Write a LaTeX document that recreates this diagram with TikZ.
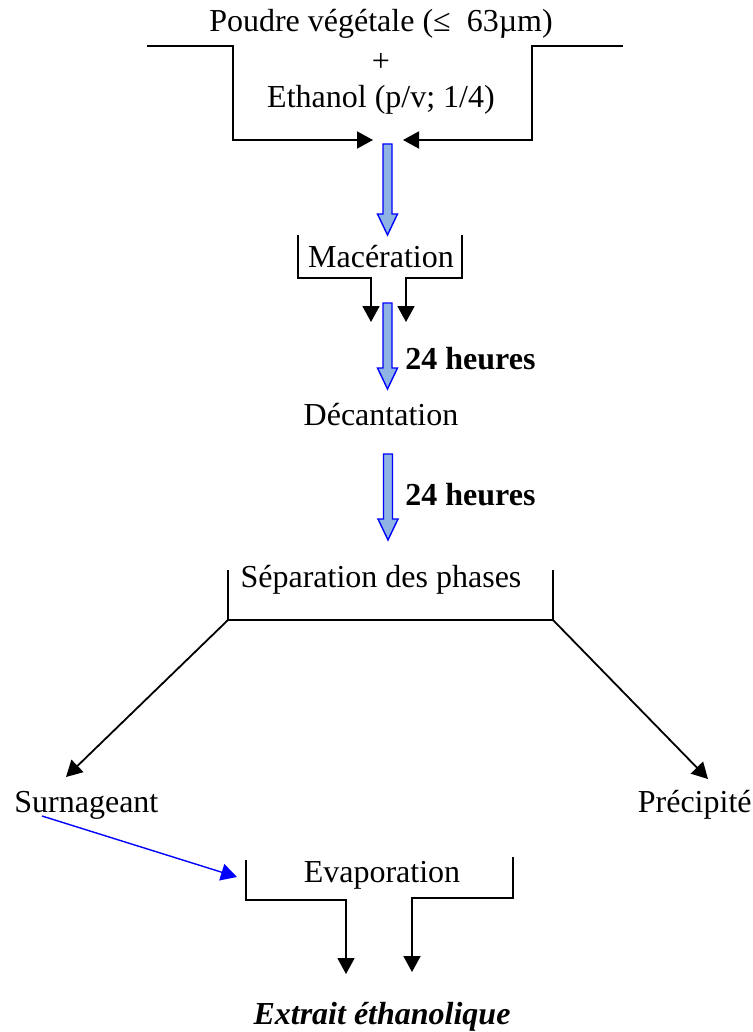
\documentclass[tikz,border=0pt]{standalone}
\usepackage{fontspec}
\setmainfont{Liberation Serif}
\usetikzlibrary{arrows.meta}
\definecolor{blockfill}{RGB}{142,180,227}
\tikzset{
  txt/.style={inner sep=0pt, font=\fontsize{16}{19}\selectfont},
  btxt/.style={inner sep=0pt, font=\fontsize{16}{19}\selectfont\bfseries},
  brk/.style={line width=0.9pt, line join=miter},
  brkarr/.style={brk, -{Triangle[length=8pt,width=8.5pt]}},
  bluearr/.style={draw=blue, line width=0.7pt, -{Triangle[length=8pt,width=8.5pt]}},
  blockarr/.style={draw=blue, fill=blockfill, line width=0.7pt, line join=miter}
}
\newcommand{\myblockarrow}[3]{% x center, top y, tip y
  \draw[blockarr] ({#1-4.5},#2) -- ({#1+4.5},#2) -- ({#1+4.5},{#3-21}) -- ({#1+10},{#3-21}) -- (#1,#3) -- ({#1-10},{#3-21}) -- ({#1-4.5},{#3-21}) -- cycle;}
\begin{document}
\begin{tikzpicture}[x=0.5pt,y=-0.5pt]
\useasboundingbox (0,0) rectangle (753,1032);

% top texts
\node[txt] (poudre) at (381,24) {Poudre végétale (≤\ \ 63µm)};
\node[txt] (plus) at (381,62) {+};
\node[txt] (ethanol) at (381,100) {Ethanol (p/v; 1/4)};

% top brackets
\coordinate (tl0) at (147,46);
\coordinate (tl1) at (233,46);
\coordinate (tl2) at (233,140);
\coordinate (tlt) at (373,140);
\coordinate (tr0) at (623,46);
\coordinate (tr1) at (532,46);
\coordinate (tr2) at (532,140);
\coordinate (trt) at (403,140);
\draw[brkarr] (tl0) -- (tl1) -- (tl2) -- (tlt);
\draw[brkarr] (tr0) -- (tr1) -- (tr2) -- (trt);

\myblockarrow{387.5}{144}{235}

% maceration
\node[txt] (mac) at (381,257) {Macération};
\coordinate (ml0) at (298,235);
\coordinate (ml1) at (298,278);
\coordinate (ml2) at (371,278);
\coordinate (mlt) at (371,322);
\coordinate (mr0) at (462,235);
\coordinate (mr1) at (462,278);
\coordinate (mr2) at (406,278);
\coordinate (mrt) at (406,322);
\draw[brkarr] (ml0) -- (ml1) -- (ml2) -- (mlt);
\draw[brkarr] (mr0) -- (mr1) -- (mr2) -- (mrt);

\myblockarrow{387.5}{303}{389}
\node[btxt, anchor=west] (h1) at (405,359) {24 heures};

\node[txt] (dec) at (381,415) {Décantation};

\myblockarrow{388}{454}{540}
\node[btxt, anchor=west] (h2) at (405,495) {24 heures};

% separation
\node[txt] (sep) at (381,580) {Séparation des phases};
\coordinate (sl0) at (228,570);
\coordinate (sl1) at (228,620);
\coordinate (sr0) at (553,570);
\coordinate (sr1) at (553,620);
\draw[brk] (sl0) -- (sl1) -- (sr1) -- (sr0);

\node[txt, anchor=west] (surn) at (14,805) {Surnageant};
\node[txt, anchor=east] (prec) at (752,805) {Précipité};
\coordinate (surnt) at (66,777);
\coordinate (prect) at (708,779);
\draw[brkarr] (sl1) -- (surnt);
\draw[brkarr] (sr1) -- (prect);

% evaporation
\coordinate (bs) at (42,816);
\coordinate (bt) at (237,877);
\draw[bluearr] (bs) -- (bt);

\node[txt] (evap) at (382,875) {Evaporation};
\coordinate (el0) at (246,860);
\coordinate (el1) at (246,900);
\coordinate (el2) at (346,900);
\coordinate (elt) at (346,974);
\coordinate (er0) at (513,857);
\coordinate (er1) at (513,898);
\coordinate (er2) at (412,898);
\coordinate (ert) at (412,972);
\draw[brkarr] (el0) -- (el1) -- (el2) -- (elt);
\draw[brkarr] (er0) -- (er1) -- (er2) -- (ert);

\node[txt, font=\fontsize{16}{19}\selectfont\bfseries\itshape] (extrait) at (382,1017) {Extrait éthanolique};
\end{tikzpicture}
\end{document}
